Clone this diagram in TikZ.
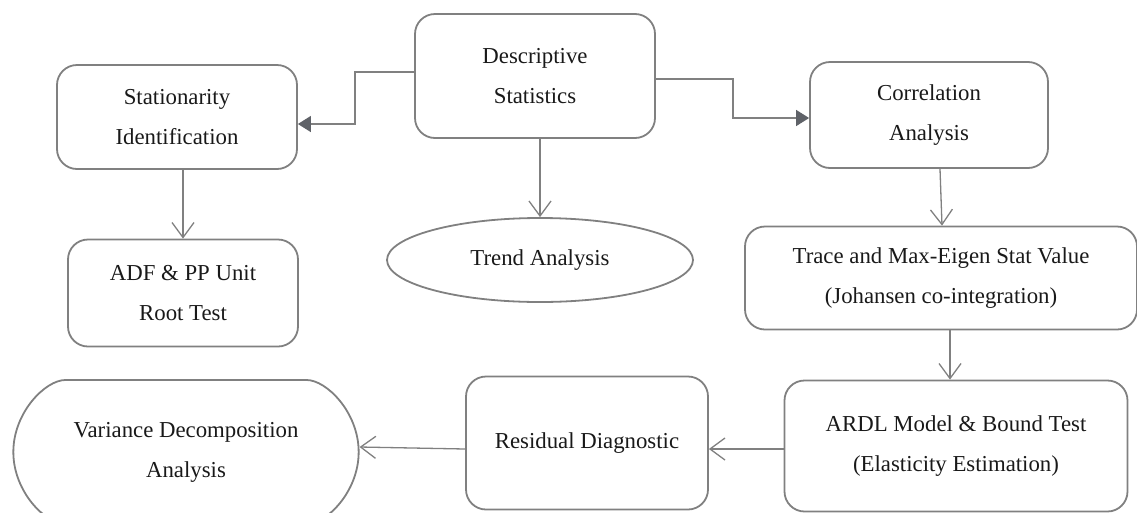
\documentclass[tikz,border=0pt]{standalone}
\usepackage{fontspec}
\setmainfont{Liberation Serif}
\usetikzlibrary{arrows.meta,shapes.misc,shapes.geometric}

\definecolor{linegray}{RGB}{128,128,128}
\definecolor{tipgray}{RGB}{95,98,104}

\begin{document}
\begin{tikzpicture}[x=1pt,y=-1pt,
  box/.style={draw=linegray,line width=1.8pt,rounded corners=20pt,align=center,
    font=\fontsize{22.8}{40}\selectfont,text=black!90},
  pill/.style={box,rounded rectangle,rounded rectangle arc length=180},
  opentip/.style={draw=linegray,line width=1.3pt,-{Straight Barb[length=15pt,width=22pt,line width=1.3pt]}},
  solidtip/.style={draw=linegray,line width=1.3pt,-{Triangle[length=13pt,width=16pt,fill=tipgray,color=tipgray]}}]
\useasboundingbox (0,0) rectangle (1137,512);
  % top row
  \node[box,minimum width=240pt,minimum height=124pt] (desc) at (535,76) {Descriptive\\Statistics};
  \node[box,minimum width=240pt,minimum height=104pt] (stat) at (177,117) {Stationarity\\Identification};
  \node[box,minimum width=238pt,minimum height=106pt] (corr) at (929,115) {Correlation\\Analysis};
  % middle row
  \node[shape=ellipse,draw=linegray,line width=1.8pt,font=\fontsize{22.8}{40}\selectfont,text=black!90,
    minimum width=306pt,minimum height=84pt,inner sep=0pt] (trend) at (540,260) {Trend Analysis};
  \node[box,minimum width=230pt,minimum height=107pt] (adf) at (183,293) {ADF \& PP Unit\\Root Test};
  \node[box,minimum width=392pt,minimum height=103pt] (trace) at (941,278) {Trace and Max-Eigen Stat Value\\(Johansen co-integration)};
  % bottom row
  \node[box,minimum width=343pt,minimum height=131pt] (ardl) at (956,446) {ARDL Model \& Bound Test\\(Elasticity Estimation)};
  \node[box,minimum width=242pt,minimum height=133pt] (resid) at (587,443) {Residual Diagnostic};
  \node[pill,minimum width=352pt,minimum height=144pt] (vardec) at (186,452) {Variance Decomposition\\Analysis};
  % connectors
  \draw[solidtip] ([yshift=4pt]desc.west) -| (355,100) |- ([yshift=-7pt]stat.east);
  \draw[solidtip] ([yshift=-3pt]desc.east) -| (733,100) |- ([yshift=-3pt]corr.west);
  \draw[opentip] (desc.south -| trend.north) -- (trend.north);
  \draw[opentip] (stat.south -| adf.north) -- (adf.north);
  \draw[opentip] ([xshift=11pt]corr.south) -- ([xshift=1pt]trace.north);
  \draw[opentip] ([xshift=9pt]trace.south) -- ([xshift=-6pt]ardl.north);
  \draw[opentip] ([yshift=-3pt]ardl.west) -- ([yshift=-6pt]resid.east);
  \draw[opentip] ([yshift=-6pt]resid.west) -- ([yshift=5pt]vardec.east);
\end{tikzpicture}
\end{document}
